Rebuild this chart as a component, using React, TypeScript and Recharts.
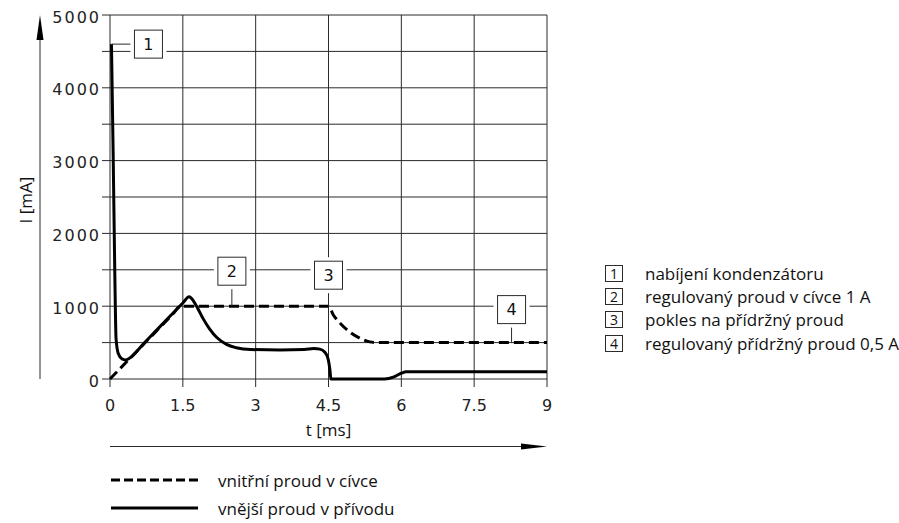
import {
  LineChart,
  Line,
  XAxis,
  YAxis,
  CartesianGrid,
  ReferenceDot,
  Legend,
} from "recharts";

// time axis [ms] and current axis [mA]
const timeTicks = [0, 1.5, 3, 4.5, 6, 7.5, 9];
const currentTicks = [0, 500, 1000, 1500, 2000, 2500, 3000, 3500, 4000, 4500, 5000];

// inner current in the coil (dashed)
const coilT = [0, 0.4, 1.0, 1.3, 1.45, 1.8, 3, 4.5, 4.6, 4.75, 4.95, 5.15, 5.35, 5.5, 9];
const coilI = [0, 276, 690, 897, 1000, 1000, 1000, 1000, 880, 760, 640, 560, 510, 500, 500];

// outer current in the supply line (solid)
const supplyT = [
  0.03, 0.065, 0.1, 0.125, 0.17, 0.25, 0.32, 0.4, 0.7, 1.0, 1.3, 1.5, 1.63, 1.72, 1.8,
  1.9, 2.05, 2.2, 2.4, 2.6, 2.9, 3.5, 4.0, 4.2, 4.32, 4.42, 4.49, 4.53, 4.55, 5.65,
  5.85, 6.0, 6.1, 9,
];
const supplyI = [
  4600, 3100, 1400, 550, 350, 275, 262, 285, 492, 699, 906, 1044, 1130, 1070, 980,
  850, 690, 570, 475, 430, 405, 400, 405, 418, 410, 370, 280, 120, 0, 0,
  30, 80, 100, 100,
];

const seriesNames = ["vnitřní proud v cívce", "vnější proud v přívodu"];

// numbered notes: anchor point on the curve
const noteNumbers = ["1", "2", "3", "4"];
const noteT = [0.03, 2.51, 4.5, 8.27];
const noteI = [4600, 1000, 1000, 500];
const noteTexts = [
  "nabíjení kondenzátoru",
  "regulovaný proud v cívce 1 A",
  "pokles na přídržný proud",
  "regulovaný přídržný proud 0,5 A",
];
// box offset from anchor in px
const noteOffsets = [
  [37, 0],
  [0, -35],
  [0, -31],
  [0, -33],
];

const coilData = coilT.map((t, k) => ({ t, i: coilI[k] }));
const supplyData = supplyT.map((t, k) => ({ t, i: supplyI[k] }));

const INK = "#2b2b2b";
const TICK_FONT = "DejaVu Sans";
const TEXT_FONT = "Open Sans";

function noteShape(label: string, dx: number, dy: number) {
  return (props: any) => {
    const { cx, cy } = props;
    const bx = cx + dx;
    const by = cy + dy;
    const h = 14;
    const horiz = Math.abs(dx) > Math.abs(dy);
    const x2 = horiz ? bx - Math.sign(dx) * h : cx;
    const y2 = horiz ? cy : by - Math.sign(dy) * h;
    return (
      <g>
        <line x1={cx} y1={cy} x2={x2} y2={y2} stroke={INK} strokeWidth={1} />
        <rect x={bx - h - 4} y={by - h - 4} width={2 * h + 8} height={2 * h + 8} fill="#fff" />
        <rect x={bx - h} y={by - h} width={2 * h} height={2 * h} fill="#fff" stroke={INK} strokeWidth={1} />
        <text
          x={bx}
          y={by}
          textAnchor="middle"
          dominantBaseline="central"
          fontFamily={TICK_FONT}
          fontSize={16}
          fill="#111"
        >
          {label}
        </text>
      </g>
    );
  };
}

const seriesLegend = (props: any) => (
  <div style={{ fontFamily: TEXT_FONT, fontSize: 17, color: "#111" }}>
    {(props.payload || []).map((entry: any, k: number) => (
      <div key={k} style={{ display: "flex", alignItems: "center", height: 28 }}>
        <svg width={87} height={6}>
          <line
            x1={0}
            y1={3}
            x2={87}
            y2={3}
            stroke="#000"
            strokeWidth={3}
            strokeDasharray={k === 0 ? "9 4" : undefined}
          />
        </svg>
        <span style={{ marginLeft: 20 }}>{entry.value}</span>
      </div>
    ))}
  </div>
);

export default function App() {
  return (
    <div
      style={{
        position: "absolute",
        left: 0,
        top: 0,
        width: 899,
        height: 523,
        background: "#fff",
      }}
    >
      <LineChart
        width={899}
        height={523}
        margin={{ top: 15, right: 352, left: 50, bottom: 114 }}
        style={{ fontFamily: TICK_FONT }}
      >
        <CartesianGrid stroke={INK} strokeWidth={1} />
        <XAxis
          dataKey="t"
          type="number"
          domain={[0, 9]}
          ticks={timeTicks}
          interval={0}
          height={30}
          tickSize={8}
          tickMargin={13}
          axisLine={false}
          tickLine={{ stroke: INK }}
          tick={{ fontSize: 16, fill: "#222", fontFamily: TICK_FONT }}
          label={{
            value: "t [ms]",
            position: "bottom",
            offset: 15,
            fill: "#111",
            fontSize: 17,
            fontFamily: TEXT_FONT,
          }}
        />
        <YAxis
          type="number"
          domain={[0, 5000]}
          ticks={currentTicks}
          interval={0}
          width={60}
          tickSize={8}
          tickMargin={1}
          axisLine={false}
          tickLine={{ stroke: INK }}
          tickFormatter={(v: number) => (v % 1000 === 0 ? String(v) : "")}
          tick={{ fontSize: 16, fill: "#222", fontFamily: TICK_FONT, dy: 2, letterSpacing: 2 }}
        />
        <Line
          data={coilData}
          dataKey="i"
          name={seriesNames[0]}
          type="monotone"
          stroke="#000"
          strokeWidth={3}
          strokeDasharray="10 5"
          dot={false}
          isAnimationActive={false}
        />
        <Line
          data={supplyData}
          dataKey="i"
          name={seriesNames[1]}
          type="monotone"
          stroke="#000"
          strokeWidth={3}
          strokeLinejoin="round"
          dot={false}
          isAnimationActive={false}
        />
        {noteNumbers.map((n, k) => (
          <ReferenceDot
            key={n}
            x={noteT[k]}
            y={noteI[k]}
            ifOverflow="visible"
            shape={noteShape(n, noteOffsets[k][0], noteOffsets[k][1])}
          />
        ))}
        <Legend
          layout="vertical"
          verticalAlign="middle"
          align="center"
          content={seriesLegend}
          wrapperStyle={{ position: "absolute", left: 111, top: 466, width: 320 }}
        />
      </LineChart>

      {/* axis arrows and y title */}
      <svg
        width={899}
        height={523}
        style={{ position: "absolute", left: 0, top: 0, pointerEvents: "none" }}
      >
        <line x1={40} y1={36} x2={40} y2={379} stroke={INK} strokeWidth={1} />
        <polygon points="40,15 36.5,40 43.5,40" fill="#000" />
        <line x1={110} y1={446.5} x2={525} y2={446.5} stroke={INK} strokeWidth={1} />
        <polygon points="547,446.5 521,443.5 521,449.5" fill="#000" />
        <text
          x={25}
          y={200}
          transform="rotate(-90 25 200)"
          textAnchor="middle"
          dominantBaseline="central"
          fontFamily={TEXT_FONT}
          fontSize={17}
          fill="#111"
        >
          I [mA]
        </text>
      </svg>

      {/* numbered notes list */}
      <div
        style={{
          position: "absolute",
          left: 605,
          top: 262,
          fontFamily: TEXT_FONT,
          fontSize: 17,
          color: "#111",
        }}
      >
        {noteNumbers.map((n, k) => (
          <div key={n} style={{ display: "flex", alignItems: "center", height: 23.2 }}>
            <div
              style={{
                width: 16,
                height: 15,
                border: `1px solid ${INK}`,
                fontSize: 14,
                lineHeight: "15px",
                textAlign: "center",
              }}
            >
              {n}
            </div>
            <span style={{ marginLeft: 22, whiteSpace: "nowrap" }}>{noteTexts[k]}</span>
          </div>
        ))}
      </div>
    </div>
  );
}
